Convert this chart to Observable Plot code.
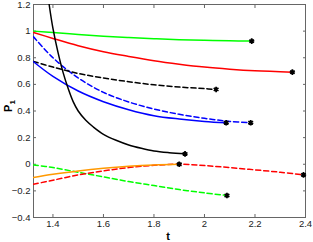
<!DOCTYPE html>
<html><head><meta charset="utf-8">
<script src="https://cdn.jsdelivr.net/npm/d3@7"></script>
<script src="https://cdn.jsdelivr.net/npm/@observablehq/plot@0.6"></script>
<style>body{margin:0;background:#fff}svg{display:block}</style>
</head><body><div id="chart"></div>
<script>
// Series values
const greenSolidT = [1.323, 1.4, 1.5, 1.6, 1.7, 1.8, 1.9, 2.0, 2.1, 2.187];
const greenSolidP = [1.0, 0.99, 0.975, 0.962, 0.952, 0.943, 0.936, 0.931, 0.927, 0.925];
const redSolidT = [1.323, 1.4, 1.5, 1.6, 1.7, 1.8, 1.9, 2.0, 2.1, 2.2, 2.348];
const redSolidP = [0.99, 0.945, 0.89, 0.845, 0.81, 0.778, 0.752, 0.73, 0.714, 0.702, 0.692];
const blueDashT = [1.323, 1.4, 1.5, 1.6, 1.7, 1.8, 1.9, 2.0, 2.1, 2.183];
const blueDashP = [0.957, 0.80, 0.648, 0.54, 0.468, 0.415, 0.375, 0.345, 0.322, 0.312];
const blackDashT = [1.323, 1.4, 1.5, 1.6, 1.7, 1.8, 1.9, 2.0, 2.046];
const blackDashP = [0.772, 0.73, 0.682, 0.648, 0.62, 0.597, 0.58, 0.568, 0.562];
const blueSolidT = [1.323, 1.4, 1.5, 1.6, 1.7, 1.8, 1.9, 2.0, 2.086];
const blueSolidP = [0.77, 0.66, 0.55, 0.47, 0.41, 0.365, 0.34, 0.322, 0.312];
const blackSolidT = [1.385, 1.40, 1.42, 1.44, 1.46, 1.48, 1.50, 1.53, 1.56, 1.60, 1.65, 1.70, 1.75, 1.80, 1.86, 1.923];
const blackSolidP = [1.2, 1.02, 0.84, 0.69, 0.57, 0.47, 0.40, 0.33, 0.28, 0.225, 0.18, 0.145, 0.12, 0.10, 0.087, 0.078];
const orangeT = [1.323, 1.4, 1.5, 1.6, 1.7, 1.8, 1.9];
const orangeP = [-0.1, -0.075, -0.05, -0.03, -0.015, -0.005, 0.0];
const redDashT = [1.323, 1.4, 1.5, 1.6, 1.7, 1.8, 1.9, 2.0, 2.1, 2.2, 2.3, 2.392];
const redDashP = [-0.15, -0.12, -0.08, -0.05, -0.025, -0.008, 0.0, -0.01, -0.025, -0.042, -0.06, -0.08];
const greenDashT = [1.323, 1.4, 1.5, 1.6, 1.7, 1.8, 1.9, 2.0, 2.089];
const greenDashP = [-0.005, -0.025, -0.06, -0.095, -0.13, -0.16, -0.19, -0.215, -0.235];

const xTicks = [1.4, 1.6, 1.8, 2, 2.2, 2.4];
const yTicks = [-0.4, -0.2, 0, 0.2, 0.4, 0.6, 0.8, 1, 1.2];

const series = [
  {name: "greenSolid", t: greenSolidT, p: greenSolidP, color: "#00ff00", dash: null},
  {name: "redSolid", t: redSolidT, p: redSolidP, color: "#ff0000", dash: null},
  {name: "blueDash", t: blueDashT, p: blueDashP, color: "#0000ff", dash: "5,3"},
  {name: "blackDash", t: blackDashT, p: blackDashP, color: "#000000", dash: "5,3"},
  {name: "blueSolid", t: blueSolidT, p: blueSolidP, color: "#0000ff", dash: null},
  {name: "blackSolid", t: blackSolidT, p: blackSolidP, color: "#000000", dash: null},
  {name: "greenDash", t: greenDashT, p: greenDashP, color: "#00ff00", dash: "5,3"},
  {name: "redDash", t: redDashT, p: redDashP, color: "#ff0000", dash: "5,3"},
  {name: "orange", t: orangeT, p: orangeP, color: "#ff9900", dash: null}
];

const lineMarks = series.map(s => Plot.line(s.t.map((t, i) => ({t, p: s.p[i]})), {
  x: "t", y: "p", stroke: s.color, strokeWidth: 1.5,
  strokeDasharray: s.dash ?? undefined, curve: "catmull-rom", clip: true
}));
const ends = series.map(s => ({t: s.t[s.t.length - 1], p: s.p[s.p.length - 1]}))
  .filter(d => d.p < 1.2);

const fmt = d => d === 0 ? "0" : String(d).replace("-", "\u2212");

const chart = Plot.plot({
  width: 313, height: 242,
  marginLeft: 33, marginRight: 8, marginTop: 4, marginBottom: 25,
  style: {fontFamily: "'Liberation Sans', Arial, sans-serif", fontSize: "9.5px", color: "#222", background: "#fff"},
  x: {domain: [1.323, 2.4], ticks: xTicks, tickFormat: fmt},
  y: {domain: [-0.4, 1.2], ticks: yTicks, tickFormat: fmt},
  marks: [
    Plot.frame({stroke: "#666"}),
    Plot.axisX({anchor: "bottom", ticks: xTicks, tickFormat: fmt, tickSize: -3, tickPadding: 6, label: null, stroke: "#666", fill: "#222"}),
    Plot.axisX({anchor: "top", ticks: xTicks, tickFormat: () => "", tickSize: -3, label: null, stroke: "#666"}),
    Plot.axisY({anchor: "left", ticks: yTicks, tickFormat: fmt, tickSize: -3, tickPadding: 6, label: null, stroke: "#666", fill: "#222"}),
    Plot.axisY({anchor: "right", ticks: yTicks, tickFormat: () => "", tickSize: -3, label: null, stroke: "#666"}),
    ...lineMarks,
    Plot.dot(ends, {x: "t", y: "p", symbol: "asterisk", stroke: "black", strokeWidth: 1.8, r: 2.6}),
    Plot.dot(ends, {x: "t", y: "p", symbol: "circle", fill: "black", r: 1.4})
  ]
});

const svg = d3.select(chart);
svg.append("text")
  .attr("transform", "translate(12,106) rotate(-90)")
  .attr("text-anchor", "middle")
  .attr("font-weight", "bold").attr("font-size", "11px").attr("fill", "#000")
  .html('P<tspan font-size="8px" dy="3">1</tspan>');
svg.append("text")
  .attr("x", 168).attr("y", 240)
  .attr("text-anchor", "middle")
  .attr("font-weight", "bold").attr("font-size", "11px").attr("fill", "#000")
  .text("t");

document.getElementById("chart").appendChild(chart);
</script></body></html>
